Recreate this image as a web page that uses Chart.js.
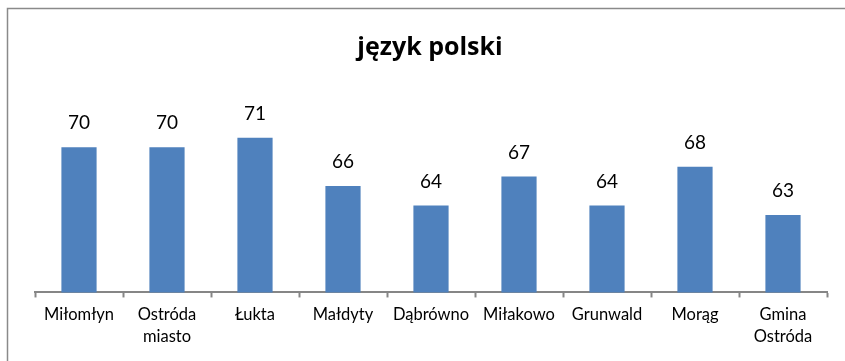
<!DOCTYPE html>
<html>
<head>
<meta charset="utf-8">
<script src="https://cdn.jsdelivr.net/npm/chart.js@4"></script>
<style>
  html, body { margin: 0; padding: 0; background: #fff; }
  #wrap { width: 845px; height: 361px; position: relative; }
</style>
</head>
<body>
<div id="wrap"><canvas id="barChart"></canvas></div>
<script>
// gminy i wyniki
const gminy = ['Miłomłyn', ['Ostróda', 'miasto'], 'Łukta', 'Małdyty', 'Dąbrówno', 'Miłakowo', 'Grunwald', 'Morąg', ['Gmina', 'Ostróda']];
const wyniki = [70, 70, 71, 66, 64, 67, 64, 68, 63];
const tytul = 'język polski';

const FONT = 'Lato, "Open Sans", sans-serif';

// ramka + tytuł + wartości nad słupkami
const extras = {
  id: 'extras',
  afterDraw(chart) {
    const ctx = chart.ctx;
    ctx.save();
    ctx.strokeStyle = '#8a8a8a';
    ctx.lineWidth = 1.5;
    ctx.strokeRect(7.5, 8.5, 900, 400);

    ctx.fillStyle = '#000';
    ctx.textAlign = 'center';
    ctx.textBaseline = 'middle';
    ctx.font = 'bold 25px "Open Sans", sans-serif';
    ctx.fillText(tytul, 430, 48);

    ctx.font = '19px ' + FONT;
    const meta = chart.getDatasetMeta(0);
    meta.data.forEach((bar, i) => {
      ctx.fillText(wyniki[i], bar.x, bar.y - 24);
    });
    ctx.restore();
  }
};

const ctx = document.getElementById('barChart').getContext('2d');
new Chart(ctx, {
  type: 'bar',
  data: {
    labels: gminy,
    datasets: [{
      data: wyniki,
      backgroundColor: '#4f81bd',
      barPercentage: 0.4,
      categoryPercentage: 1
    }]
  },
  options: {
    responsive: true,
    maintainAspectRatio: false,
    animation: false,
    layout: { padding: { left: 35, right: 18, top: 99, bottom: 7 } },
    plugins: {
      legend: { display: false },
      tooltip: { enabled: false }
    },
    scales: {
      y: { display: false, min: 55, max: 75 },
      x: {
        border: { color: '#868686', width: 2 },
        grid: { offset: true, drawOnChartArea: false, tickLength: 5, tickColor: '#868686', tickWidth: 2 },
        ticks: { color: '#000', font: { family: FONT, size: 16.5, lineHeight: 1.35 }, padding: 6, maxRotation: 0 }
      }
    }
  },
  plugins: [extras]
});
</script>
</body>
</html>
